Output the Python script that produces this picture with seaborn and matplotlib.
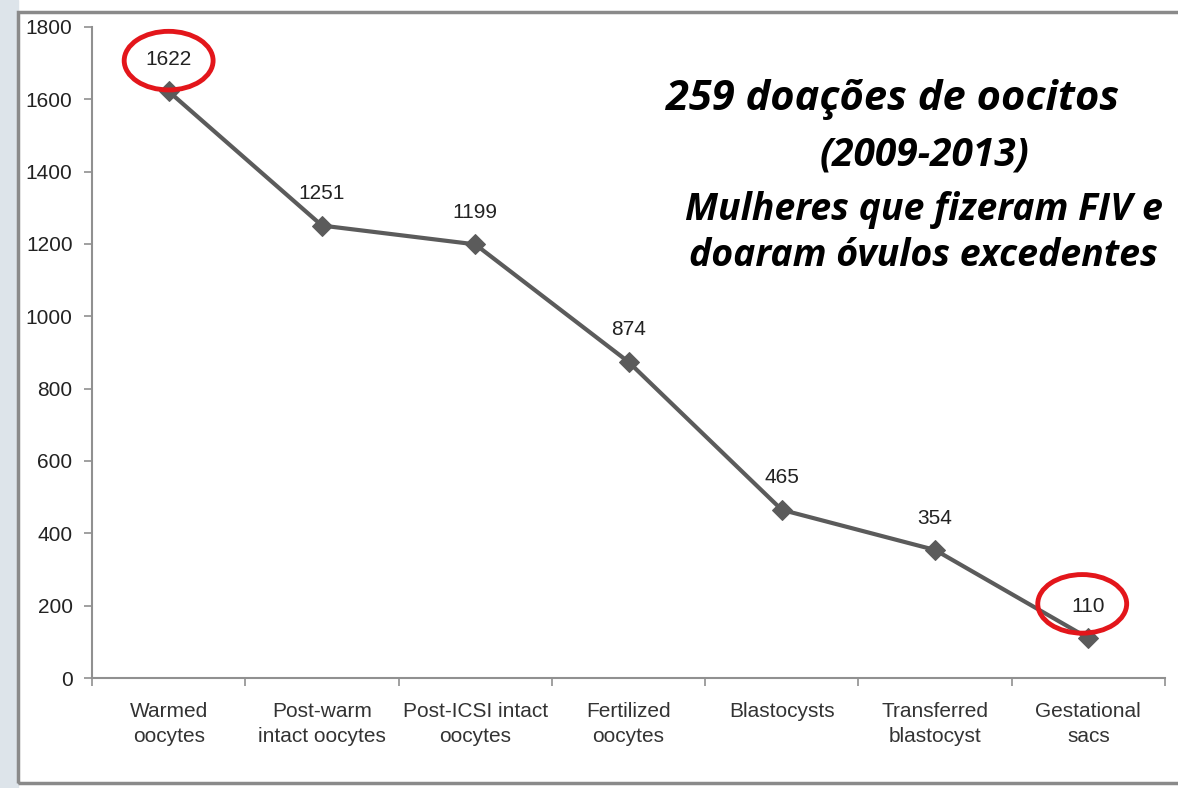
import matplotlib
matplotlib.use('Agg')
import matplotlib.pyplot as plt
from matplotlib.patches import Ellipse, Rectangle
import seaborn as sns
import pandas as pd

# data
stages = ['Warmed\noocytes', 'Post-warm\nintact oocytes', 'Post-ICSI intact\noocytes',
          'Fertilized\noocytes', 'Blastocysts', 'Transferred\nblastocyst', 'Gestational\nsacs']
counts = [1622, 1251, 1199, 874, 465, 354, 110]
circled = [0, 6]  # points highlighted with red ellipse
title_lines = ['259 doações de oocitos', '(2009-2013)',
               'Mulheres que fizeram FIV e', 'doaram óvulos excedentes']

df = pd.DataFrame({'pos': range(len(stages)), 'count': counts})

sns.set_style('white')
plt.rcParams['font.family'] = ['Liberation Sans', 'DejaVu Sans']

fig = plt.figure(figsize=(11.78, 7.88), dpi=100)
W, H = 1178, 788

# slide background stripe + chart frame
fig.patches.append(Rectangle((0, 0), 18 / W, 1, transform=fig.transFigure,
                             color='#dde4ea', zorder=0))
fig.patches.append(Rectangle((18 / W, 5 / H), 1.0, 1 - 17 / H, transform=fig.transFigure,
                             fill=False, edgecolor='#8a8a8a', lw=2.5, zorder=1))

ax = fig.add_axes([92 / W, 1 - 678 / H, (1165 - 92) / W, (678 - 27) / H])
ax.patch.set_alpha(0)

sns.lineplot(data=df, x='pos', y='count', ax=ax, color='#5b5b5b', lw=3,
             marker='D', markersize=10, markeredgecolor='#5b5b5b')

for i, v in enumerate(counts):
    ax.annotate(str(v), (i, v), xytext=(0, 23), textcoords='offset points',
                ha='center', va='center', fontsize=15, color='#222222')

for i in circled:
    ax.add_patch(Ellipse((i - 0.04 * (i > 0), counts[i] + 85 + 10 * (i > 0)), 0.58, 162,
                         fill=False, edgecolor='#e3161b', lw=3.5, zorder=5))

ax.set_xlim(-0.5, len(stages) - 0.5)
ax.set_ylim(0, 1800)
ax.set_yticks(range(0, 1801, 200))
ax.set_xticks([x - 0.5 for x in range(len(stages) + 1)])
ax.set_xticklabels([])
ax.set_xticks(range(len(stages)), minor=True)
ax.set_xticklabels(stages, minor=True, fontsize=15, color='#333333', linespacing=1.45)
ax.tick_params(axis='x', which='minor', bottom=False, length=0, pad=17)
ax.tick_params(axis='x', which='major', bottom=True, length=6, color='#909090', width=1.2)
ax.tick_params(axis='y', left=True, length=6, color='#909090', width=1.2, labelsize=15,
               labelcolor='#222222', pad=8)
ax.set_xlabel('')
ax.set_ylabel('')
for s in ['top', 'right']:
    ax.spines[s].set_visible(False)
for s in ['left', 'bottom']:
    ax.spines[s].set_color('#909090')
    ax.spines[s].set_linewidth(1.5)

# annotation text block
tfont = dict(fontweight='bold', fontstyle='italic', color='black',
             family=['Open Sans', 'DejaVu Sans'], ha='center', va='center')
fig.text(893 / W, 1 - 100 / H, title_lines[0], fontsize=30, **tfont)
fig.text(924 / W, 1 - 155 / H, title_lines[1], fontsize=28, **tfont)
fig.text(924 / W, 1 - 210 / H, title_lines[2], fontsize=27, **tfont)
fig.text(923 / W, 1 - 256 / H, title_lines[3], fontsize=27, **tfont)

fig.savefig('out.png', dpi=100)
